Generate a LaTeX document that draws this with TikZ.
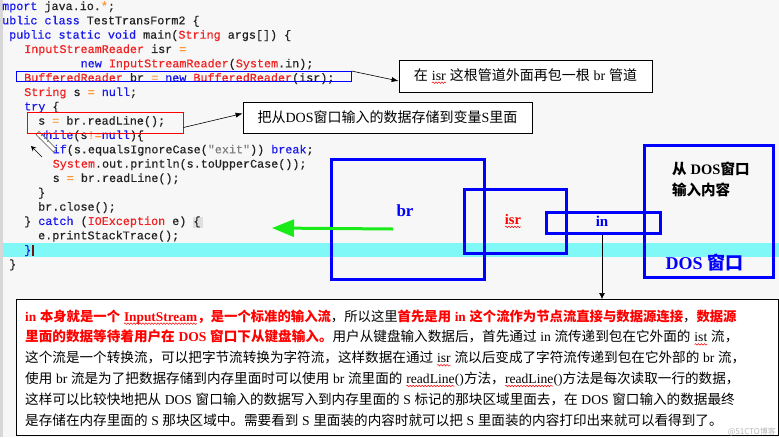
\documentclass[tikz,border=0pt]{standalone}
\usepackage{fontspec}
\setmainfont{Liberation Serif}
\newfontfamily\cjk{Noto Sans CJK SC}[WordSpace=2.1]
\newfontfamily\cjktight{Noto Sans CJK SC}[WordSpace=1.2]
\newfontfamily\mono{Liberation Mono}[FakeBold=0.4]
\usetikzlibrary{arrows.meta,decorations.pathmorphing}

\definecolor{kwblue}{RGB}{25,25,235}
\definecolor{clsred}{RGB}{240,35,35}
\definecolor{oporange}{RGB}{255,150,50}
\definecolor{codegray}{RGB}{35,35,35}
\definecolor{bggray}{RGB}{247,247,247}
\definecolor{stripgray}{RGB}{215,215,215}
\definecolor{linecyan}{RGB}{128,248,248}
\definecolor{pipegreen}{RGB}{25,235,25}
\definecolor{cursorred}{RGB}{110,20,20}

\newcommand\jkw[1]{\textcolor{kwblue}{#1}}
\newcommand\jcls[1]{\textcolor{clsred}{#1}}
\newcommand\jop[1]{\textcolor{oporange}{#1}}
\newcommand\jstr[1]{\textcolor{gray}{#1}}
\newcommand\lat[1]{{\rmfamily #1}}
\newcommand\hot[1]{{\color{red}\bfseries #1}}
% red wave of the spell checker
\newcommand\wavy[1]{\tikz[baseline=(w.base)]{\node[draw=none,fill=none,inner sep=0pt,outer sep=0pt,minimum width=0pt,minimum height=0pt,anchor=base](w){\rmfamily #1};
  \draw[red,line width=0.5pt,decorate,decoration={snake,amplitude=0.8pt,segment length=3pt}]([yshift=-2.6pt]w.base west)--([yshift=-2.6pt]w.base east);}}

\tikzset{
  code/.style={anchor=base west, inner sep=0pt, font=\mono\fontsize{11.75}{14}\selectfont, text=codegray},
  codebox/.style={draw=#1, line width=1pt, inner sep=0pt},
  callout/.style={draw, line width=0.8pt, fill=white, inner sep=0pt, font=\cjktight\fontsize{14}{16}\selectfont},
  callarrow/.style={-{Latex[length=7pt,width=5pt]}, line width=0.6pt},
  pipe/.style={draw=blue, line width=3pt, inner sep=0pt},
  pipelabel/.style={inner sep=0pt, font=\rmfamily\bfseries#1},
  txt/.style={anchor=base west, inner sep=0pt, font=\cjk\fontsize{13.6}{16}\selectfont},
}

\begin{document}
\begin{tikzpicture}[x=1pt,y=-1pt]
% background of the editor
\fill[bggray] (0,0) rectangle (779,437);
\useasboundingbox (0,0) rectangle (779,437);
\fill[stripgray] (0,0) rectangle (3,437);
\fill[linecyan] (3,243) rectangle (779,257);
\fill[gray!25] (193,216.5) rectangle (202.5,228);

% the code
\foreach \i/\x/\txt in {
  0/2/{\jkw{mport} java.io.\jop{*};},
  1/2/{\jkw{ublic class} TestTransForm2 \{},
  2/9/{\jkw{public static void} main(\jcls{String} args[]) \{},
  3/24/{\jcls{InputStreamReader} isr \jop{=}},
  4/80.5/{\jkw{new} \jcls{InputStreamReader}(\jcls{System}.in);},
  5/24/{\jcls{BufferedReader} br \jop{=} \jkw{new} \jcls{BufferedReader}(isr);},
  6/24/{\jcls{String} s \jop{=} \jkw{null};},
  7/24/{\jkw{try} \{},
  8/38/{s \jop{=} br.readLine();},
  9/38/{\jkw{while}(s\jop{!=}\jkw{null})\{},
  10/52.5/{\jkw{if}(s.equalsIgnoreCase(\jstr{"exit"})) \jkw{break};},
  11/52.5/{\jcls{System}.out.println(s.toUpperCase());},
  12/52.5/{s \jop{=} br.readLine();},
  13/38/{\}},
  14/38/{br.close();},
  15/24/{\} \jkw{catch} (\jcls{IOException} e) \{},
  16/38/{e.printStackTrace();},
  17/24/{\jkw{\}}},
  18/9/{\}}}
  \node[code] (c\i) at (\x,10+14.33*\i) {\txt};
\draw[cursorred, line width=1.2pt] ([xshift=1.5pt]c17.east |- 0,244.5) -- ([xshift=1.5pt]c17.east |- 0,256);

% mouse pointer and pencil
\draw[-{Stealth[length=5pt,width=5pt]}, line width=0.6pt] (42,157) -- (31,146);
\draw[black!70, fill=white, line width=0.6pt] (39,131.5) -- (56.5,149) -- (53.5,152) -- (36,134.5) -- cycle;
\draw[black!60, line width=0.5pt] (41,136) -- (43,134) (44,139) -- (46,137) (47,142) -- (49,140);

% boxes in the code and the notes
\node[codebox=blue, minimum width=335, minimum height=10] (brline) at (183.5,76.5) {};
\node[codebox=red, minimum width=156, minimum height=21] (sline) at (105,122.5) {};
\node[callout, minimum width=253, minimum height=32] (note1) at (525.5,76)
  {在 \wavy{isr} 这根管道外面再包一根 \lat{br} 管道\hspace{14pt}};
\node[callout, minimum width=289, minimum height=31] (note2) at (387.5,117.5)
  {把从\lat{DOS}窗口输入的数据存储到变量\lat{S}里面};
\draw[callarrow] (brline.north east) -- ([yshift=-5pt]note1.west);
\draw[callarrow] ([yshift=-5pt]sline.east) -- ([yshift=4pt]note2.west);

% the pipes
\node[pipe, minimum width=153, minimum height=120] (brpipe) at (407.5,219) {};
\node[pipe, minimum width=102, minimum height=64] (isrpipe) at (515,221) {};
\node[pipe, minimum width=114, minimum height=21] (inpipe) at (603,222.5) {};
\node[pipe, minimum width=129, minimum height=132] (dospipe) at (708.5,211) {};

\node[pipelabel=\fontsize{17}{17}\selectfont, text=blue] (brlbl) at (405,211) {br};
\node[pipelabel=\fontsize{14.5}{15}\selectfont, text=red] (isrlbl) at (513,221) {\wavy{isr}};
\node[pipelabel=\fontsize{15}{15}\selectfont, text=blue] (inlbl) at (602,221) {in};
\node[pipelabel=\cjktight\fontsize{18}{18}\selectfont, text=blue] (doslbl) at (704.5,263) {\lat{DOS} 窗口};
\node[anchor=north west, align=left, inner sep=0pt, font=\cjktight\bfseries\fontsize{14.5}{21}\selectfont] (srclbl) at (672,162)
  {从 \lat{DOS}窗口\\输入内容};

\coordinate (gstart) at (393,229);
\coordinate (gend) at (272,228);
\draw[pipegreen, line width=3pt, -{Triangle[length=22pt,width=17pt]}] (gstart) -- (gend);

% the explanation
\node[draw, line width=1pt, fill=white, anchor=north west, inner sep=0pt, minimum width=762, minimum height=136] (expl) at (16,299) {};
\draw[-{Latex[length=6pt,width=6pt]}, line width=0.6pt] (inlbl |- inpipe.south) -- (inlbl |- expl.north);

\node[txt, font=\cjktight\fontsize{13.35}{16}\selectfont] (t1) at (25,321)
  {\hot{\lat{in} 本身就是一个 \wavy{InputStream}，是一个标准的输入流}，所以这里\hot{首先是用 \lat{in} 这个流作为节点流直接与数据源连接}，\hot{数据源}};
\foreach \i/\txt in {
  2/{\hot{里面的数据等待着用户在 \lat{DOS} 窗口下从键盘输入。}用户从键盘输入数据后，首先通过 \lat{in} 流传递到包在它外面的 \wavy{ist} 流，},
  3/{这个流是一个转换流，可以把字节流转换为字符流，这样数据在通过 \wavy{isr} 流以后变成了字符流传递到包在它外部的 \lat{br} 流，},
  4/{使用 \lat{br} 流是为了把数据存储到内存里面时可以使用 \lat{br} 流里面的 \wavy{readLine}\lat{()}方法，\wavy{readLine}\lat{()}方法是每次读取一行的数据，},
  5/{这样可以比较快地把从 \lat{DOS} 窗口输入的数据写入到内存里面的 \lat{S} 标记的那块区域里面去，在 \lat{DOS} 窗口输入的数据最终},
  6/{是存储在内存里面的 \lat{S} 那块区域中。需要看到 \lat{S} 里面装的内容时就可以把 \lat{S} 里面装的内容打印出来就可以看得到了。}}
  \node[txt] (t\i) at (25,300.2+20.8*\i) {\txt};
\node[anchor=base east, inner sep=0pt, text=gray!55, font=\cjk\fontsize{8}{8}\selectfont] (mark) at (776,434.5) {@51CTO博客};
\end{tikzpicture}
\end{document}
